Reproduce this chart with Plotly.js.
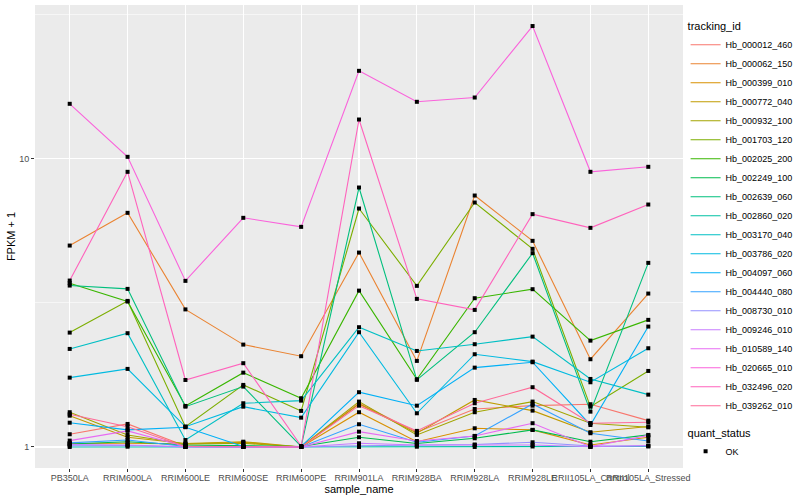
<!DOCTYPE html>
<html><head><meta charset="utf-8">
<script src="https://cdn.plot.ly/plotly-3.0.1.min.js"></script>
<style>html,body{margin:0;padding:0;background:#fff}#chart{width:800px;height:500px}</style>
</head><body><div id="chart"></div>
<script>
// ---- data ----
const samples = ["PB350LA","RRIM600LA","RRIM600LE","RRIM600SE","RRIM600PE","RRIM901LA","RRIM928BA","RRIM928LA","RRIM928LE","RRII105LA_Control","RRII105LA_Stressed"];
const trackingIds = ["Hb_000012_460","Hb_000062_150","Hb_000399_010","Hb_000772_040","Hb_000932_100","Hb_001703_120","Hb_002025_200","Hb_002249_100","Hb_002639_060","Hb_002860_020","Hb_003170_040","Hb_003786_020","Hb_004097_060","Hb_004440_080","Hb_008730_010","Hb_009246_010","Hb_010589_140","Hb_020665_010","Hb_032496_020","Hb_039262_010"];
const Hb_000012_460 = [1.107, 1.202, 1.008, 1.004, 1.000, 1.418, 1.125, 1.355, 1.391, 1.407, 1.234];
const Hb_000062_150 = [5.000, 6.494, 3.002, 2.266, 2.065, 4.728, 1.989, 7.458, 5.192, 2.016, 3.407];
const Hb_000399_010 = [1.028, 1.030, 1.024, 1.037, 1.000, 1.320, 1.043, 1.161, 1.146, 1.016, 1.081];
const Hb_000772_040 = [1.284, 1.080, 1.028, 1.043, 1.000, 1.410, 1.116, 1.456, 1.337, 1.125, 1.178];
const Hb_000932_100 = [1.320, 1.101, 1.024, 1.030, 1.000, 1.437, 1.101, 1.320, 1.437, 1.209, 1.170];
const Hb_001703_120 = [2.494, 3.213, 1.176, 1.642, 1.334, 6.722, 3.623, 7.052, 4.870, 1.380, 1.836];
const Hb_002025_200 = [3.702, 3.196, 1.388, 1.811, 1.476, 3.488, 1.718, 3.283, 3.528, 2.339, 2.761];
const Hb_002249_100 = [1.024, 1.043, 1.016, 1.008, 1.004, 1.081, 1.028, 1.072, 1.146, 1.043, 1.101];
const Hb_002639_060 = [3.632, 3.537, 1.380, 1.620, 1.004, 7.951, 1.710, 2.502, 4.705, 1.326, 4.354];
const Hb_002860_020 = [1.000, 1.002, 1.000, 1.000, 1.000, 1.000, 1.002, 1.000, 1.004, 1.000, 1.004];
const Hb_003170_040 = [2.189, 2.482, 1.057, 1.418, 1.448, 2.604, 2.154, 2.273, 2.415, 1.722, 1.519];
const Hb_003786_020 = [1.740, 1.866, 1.176, 1.380, 1.264, 2.502, 1.309, 2.098, 1.978, 1.677, 2.201];
const Hb_004097_060 = [1.214, 1.146, 1.171, 1.004, 1.004, 1.549, 1.391, 1.885, 1.968, 1.192, 2.617];
const Hb_004440_080 = [1.033, 1.057, 1.004, 1.004, 1.000, 1.199, 1.038, 1.092, 1.410, 1.116, 1.049];
const Hb_008730_010 = [1.010, 1.012, 1.000, 1.000, 1.000, 1.010, 1.012, 1.020, 1.038, 1.008, 1.008];
const Hb_009246_010 = [1.020, 1.016, 1.002, 1.000, 1.000, 1.030, 1.016, 1.016, 1.016, 1.002, 1.012];
const Hb_010589_140 = [1.052, 1.137, 1.004, 1.002, 1.000, 1.130, 1.049, 1.092, 1.209, 1.002, 1.097];
const Hb_020665_010 = [15.52, 10.16, 3.771, 6.240, 5.806, 20.20, 15.77, 16.32, 28.89, 9.013, 9.380];
const Hb_032496_020 = [3.780, 9.013, 1.708, 1.953, 1.008, 13.69, 3.265, 2.990, 6.427, 5.760, 6.940];
const Hb_039262_010 = [1.299, 1.176, 1.004, 1.002, 1.000, 1.391, 1.137, 1.418, 1.612, 1.209, 1.218];
const seriesValues = [Hb_000012_460, Hb_000062_150, Hb_000399_010, Hb_000772_040, Hb_000932_100, Hb_001703_120, Hb_002025_200, Hb_002249_100, Hb_002639_060, Hb_002860_020, Hb_003170_040, Hb_003786_020, Hb_004097_060, Hb_004440_080, Hb_008730_010, Hb_009246_010, Hb_010589_140, Hb_020665_010, Hb_032496_020, Hb_039262_010];
const quantStatus = ["OK"];
const yTickVals = [1, 10];
const yTickText = ["1", "10"];

// ---- ggplot2 hue palette (hcl, c=100, l=65) ----
function hcl(h, c, l) {
  const hr = h * Math.PI / 180;
  const U = c * Math.cos(hr), V = c * Math.sin(hr);
  const Xn = 95.047, Yn = 100.0, Zn = 108.883;
  const den = Xn + 15 * Yn + 3 * Zn;
  const un = 4 * Xn / den, vn = 9 * Yn / den;
  const Y = Yn * (l > 8 ? Math.pow((l + 16) / 116, 3) : l / 903.3);
  const u = U / (13 * l) + un, v = V / (13 * l) + vn;
  const X = 9 * Y * u / (4 * v);
  const Z = -X / 3 - 5 * Y + 3 * Y / v;
  const x = X / 100, y = Y / 100, z = Z / 100;
  const lin = [3.240479 * x - 1.537150 * y - 0.498535 * z,
               -0.969256 * x + 1.875992 * y + 0.041556 * z,
               0.055648 * x - 0.204043 * y + 1.057311 * z];
  const g = t => t <= 0.0031308 ? 12.92 * t : 1.055 * Math.pow(t, 1 / 2.4) - 0.055;
  return '#' + lin.map(t => {
    let s = Math.round(Math.min(1, Math.max(0, g(t))) * 255);
    return s.toString(16).padStart(2, '0');
  }).join('');
}
const n = trackingIds.length;
const colors = trackingIds.map((_, i) => hcl(15 + i * 360 / n, 100, 65));

// ---- traces ----
const traces = trackingIds.map((id, i) => ({
  type: 'scatter', mode: 'lines', name: id,
  x: samples, y: seriesValues[i],
  line: {color: colors[i], width: 1.1},
  legend: 'legend', hoverinfo: 'skip'
}));
const allX = [], allY = [];
seriesValues.forEach(vals => vals.forEach((v, j) => { allX.push(samples[j]); allY.push(v); }));
traces.push({
  type: 'scatter', mode: 'markers', name: quantStatus[0],
  x: allX, y: allY,
  marker: {symbol: 'square', size: 4, color: '#000000'},
  legend: 'legend2'
});

const tickFont = {family: 'Liberation Sans, Arial, sans-serif', size: 9, color: '#4D4D4D'};
const layout = {
  width: 800, height: 500,
  margin: {l: 34.5, r: 116.5, t: 5.3, b: 32, pad: 0},
  paper_bgcolor: '#FFFFFF', plot_bgcolor: '#EBEBEB',
  font: {family: 'Liberation Sans, Arial, sans-serif', size: 11, color: '#000000'},
  showlegend: true,
  xaxis: {
    type: 'category', categoryorder: 'array', categoryarray: samples,
    range: [-0.6, 10.6], showgrid: true, gridcolor: '#FFFFFF', gridwidth: 1.1,
    zeroline: false, showline: false, tickangle: 0, automargin: false,
    ticks: 'outside', ticklen: 3, tickwidth: 1, tickcolor: '#333333',
    ticklabelstandoff: -2,
    tickfont: tickFont,
    title: {text: 'sample_name', font: {size: 11, color: '#000000'}, standoff: 1}
  },
  yaxis: {
    type: 'log', range: [-0.0730, 1.5338], automargin: false,
    tickmode: 'array', tickvals: yTickVals, ticktext: yTickText,
    showgrid: true, gridcolor: '#FFFFFF', gridwidth: 1.1,
    minor: {tickmode: 'array', tickvals: [Math.sqrt(10), Math.sqrt(1000)], showgrid: true, gridcolor: '#FFFFFF', gridwidth: 0.55, ticks: ''},
    zeroline: false, showline: false,
    ticks: 'outside', ticklen: 3, tickwidth: 1, tickcolor: '#333333',
    tickfont: tickFont,
    title: {text: 'FPKM + 1', font: {size: 11, color: '#000000'}, standoff: 1}
  },
  legend: {
    xref: 'container', yref: 'container', x: 0.857, y: 0.968, xanchor: 'left', yanchor: 'top',
    title: {text: 'tracking_id', font: {size: 11, color: '#000000'}},
    font: {size: 9, color: '#000000'}, bgcolor: 'rgba(0,0,0,0)', itemwidth: 30, tracegroupgap: 0,
    maxheight: 460
  },
  legend2: {
    xref: 'container', yref: 'container', x: 0.857, y: 0.155, xanchor: 'left', yanchor: 'top',
    title: {text: 'quant_status', font: {size: 11, color: '#000000'}},
    font: {size: 9, color: '#000000'}, bgcolor: 'rgba(0,0,0,0)', itemwidth: 30
  }
};
Plotly.newPlot('chart', traces, layout, {displayModeBar: false, staticPlot: true});
</script>
</body></html>
